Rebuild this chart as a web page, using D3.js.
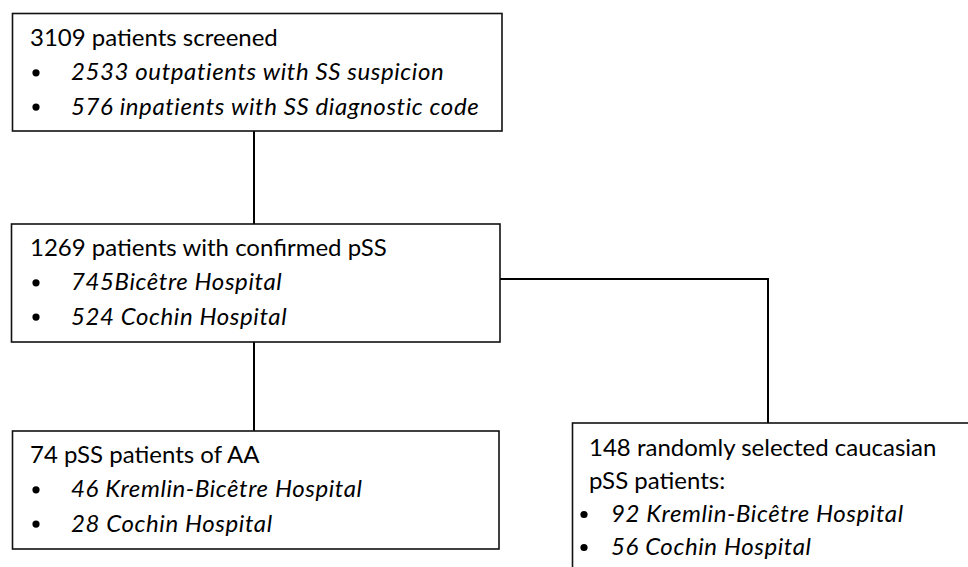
<!DOCTYPE html>
<html><head><meta charset="utf-8">
<script src="https://cdn.jsdelivr.net/npm/d3@7"></script>
<style>html,body{margin:0;padding:0;background:#fff;}svg{display:block;}</style>
</head><body>
<svg id="c" width="968" height="567"></svg>
<script>
// ---- data ----
const box1Title = ["3109 patients screened"];
const box1Bullets = ["2533 outpatients with SS suspicion", "576 inpatients with SS diagnostic code"];
const box2Title = ["1269 patients with confirmed pSS"];
const box2Bullets = ["745Bicêtre Hospital", "524 Cochin Hospital"];
const box3Title = ["74 pSS patients of AA"];
const box3Bullets = ["46 Kremlin-Bicêtre Hospital", "28 Cochin Hospital"];
const box4Title = ["148 randomly selected caucasian", "pSS patients:"];
const box4Bullets = ["92 Kremlin-Bicêtre Hospital", "56 Cochin Hospital"];

// ---- layout ----
const svg = d3.select("#c");
const font = "Lato, 'Open Sans', sans-serif";
const fs = 24;
const lh = 34.3;

const boxes = [
  {x0:12.5, y0:13.5, x1:502, y1:131, title:box1Title, bullets:box1Bullets, tx:30, bx:36, btx:71, base:46},
  {x0:11.5, y0:224, x1:500, y1:342, title:box2Title, bullets:box2Bullets, tx:30, bx:36, btx:71, base:256},
  {x0:12.5, y0:431, x1:499, y1:549, title:box3Title, bullets:box3Bullets, tx:30, bx:36, btx:71, base:463},
  {x0:572.5, y0:423, x1:990, y1:600, title:box4Title, bullets:box4Bullets, tx:589, bx:584, btx:611, base:456, lh:33}
];

// connectors
const line = d3.line();
const connectors = [
  [[254,131],[254,224]],
  [[254,342],[254,431]],
  [[500,279],[768,279],[768,423]]
];
svg.selectAll("path.conn").data(connectors).join("path")
  .attr("class","conn")
  .attr("d", d => line(d))
  .attr("fill","none").attr("stroke","#000").attr("stroke-width",2);

boxes.forEach(b => {
  svg.append("rect")
    .attr("x", b.x0).attr("y", b.y0)
    .attr("width", b.x1 - b.x0).attr("height", b.y1 - b.y0)
    .attr("fill","#fff").attr("stroke","#111").attr("stroke-width",1.6);
  const step = b.lh || lh;
  const g = svg.append("g").attr("fill","#000").attr("font-family", font).attr("font-size", fs);
  b.title.forEach((t,i) => {
    g.append("text").attr("x", b.tx).attr("y", b.base + i*step).text(t);
  });
  b.bullets.forEach((t,i) => {
    const y = b.base + (b.title.length + i)*step;
    g.append("circle").attr("cx", b.bx).attr("cy", y - 7.5).attr("r", 3.6).attr("fill","#000");
    g.append("text").attr("x", b.btx).attr("y", y)
      .attr("font-style","italic").attr("letter-spacing", 0.6).text(t);
  });
});
</script>
</body></html>
